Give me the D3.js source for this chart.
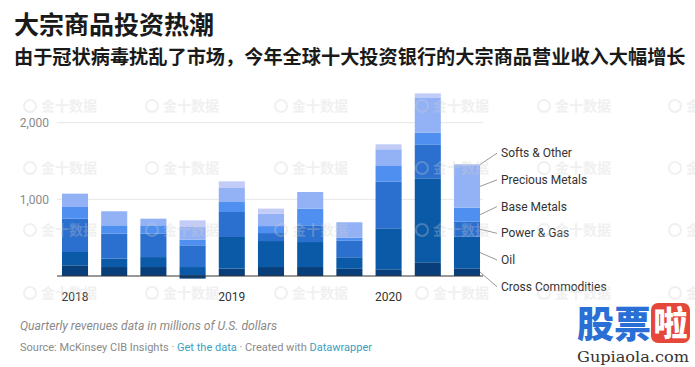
<!DOCTYPE html>
<html>
<head>
<meta charset="utf-8">
<script src="https://cdn.jsdelivr.net/npm/d3@7"></script>
<style>
html,body{margin:0;padding:0;background:#fff;}
svg{display:block;}
</style>
</head>
<body>
<svg id="chart" width="695" height="367"></svg>
<script>
// ---- data ----
const quarters = ["2018 Q1","2018 Q2","2018 Q3","2018 Q4","2019 Q1","2019 Q2","2019 Q3","2019 Q4","2020 Q1","2020 Q2","2020 Q3"];
const seriesNames = ["Cross Commodities","Oil","Power & Gas","Base Metals","Precious Metals","Softs & Other"];
const crossCommodities = [139,117,117,-34,97,117,117,94,87,179,100];
const oil              = [174,109,130,117,412,339,326,150,535,1095,412];
const powerGas         = [435,326,305,283,326,104,218,215,608,443,196];
const baseMetals       = [152,109,109,74,130,91,218,40,205,151,183];
const preciousMetals   = [174,183,87,165,183,163,217,202,218,462,555];
const softsOther       = [0,0,0,87,87,65,0,0,65,52,15];
const yTicks = [1000, 2000];
const yearLabels = [{q:"2018 Q1", t:"2018"},{q:"2019 Q1", t:"2019"},{q:"2020 Q1", t:"2020"}];
const seriesColors = ["#083f7a","#0b5aa8","#2b6fcf","#4e8ff0","#93b1f5","#c3ccf7"];

const titleText = "大宗商品投资热潮";
const subtitleText = "由于冠状病毒扰乱了市场，今年全球十大投资银行的大宗商品营业收入大幅增长";
const noteText = "Quarterly revenues data in millions of U.S. dollars";
const watermarkText = "金十数据";

// ---- build table ----
const seriesArrays = [crossCommodities, oil, powerGas, baseMetals, preciousMetals, softsOther];
const table = quarters.map((q,i)=>{
  const row = {q};
  seriesNames.forEach((s,j)=> row[s] = seriesArrays[j][i]);
  return row;
});

const svg = d3.select("#chart");
const FONT = "Roboto, 'Noto Sans', sans-serif";
const CJK = "'Noto Sans CJK SC', sans-serif";

// ---- title ----
svg.append("text").attr("x",14).attr("y",34)
  .attr("font-family",CJK).attr("font-weight",700).attr("font-size",25)
  .attr("fill","#1a1a1a").text(titleText);
svg.append("text").attr("x",14).attr("y",64)
  .attr("font-family",CJK).attr("font-weight",700).attr("font-size",19.2)
  .attr("fill","#1a1a1a").text(subtitleText);

// ---- scales ----
const x = d3.scaleBand().domain(quarters).range([57,485]).paddingInner(0.335).paddingOuter(0.127);
const y = d3.scaleLinear().domain([0,2000]).range([276,122.67]);

// gridlines
svg.append("g").selectAll("line").data(yTicks).join("line")
  .attr("x1",57).attr("x2",483)
  .attr("y1",d=>y(d)).attr("y2",d=>y(d))
  .attr("stroke","#e6e6e6").attr("stroke-width",1);

// y labels
svg.append("g").selectAll("text").data(yTicks).join("text")
  .attr("x",49).attr("y",d=>y(d)).attr("dy","0.35em")
  .attr("text-anchor","end").attr("font-family",FONT).attr("font-size",12)
  .attr("fill","#8a8a8a").text(d=>d3.format(",")(d));

// stack
const stack = d3.stack().keys(seriesNames).offset(d3.stackOffsetDiverging);
const stacked = stack(table);

svg.append("g").selectAll("g").data(stacked).join("g")
  .attr("fill",(d,i)=>seriesColors[i])
  .selectAll("rect").data(d=>d).join("rect")
  .attr("x",d=>x(d.data.q))
  .attr("width",x.bandwidth())
  .attr("y",d=>y(Math.max(d[0],d[1])))
  .attr("height",d=>Math.abs(y(d[0])-y(d[1])));

// baseline
svg.append("line").attr("x1",57).attr("x2",483).attr("y1",y(0)).attr("y2",y(0))
  .attr("stroke","#333").attr("stroke-width",1);

// x labels
svg.append("g").selectAll("text").data(yearLabels).join("text")
  .attr("x",d=>x(d.q)+x.bandwidth()/2).attr("y",301)
  .attr("text-anchor","middle").attr("font-family",FONT).attr("font-size",12)
  .attr("fill","#333").text(d=>d.t);

// direct labels on last bar
const lastIdx = quarters.length-1;
const mids = stacked.map(s=> y((s[lastIdx][0]+s[lastIdx][1])/2));
const meanMid = d3.mean(mids);
const gap = 26.7;
const n = seriesNames.length;
const labelY = seriesNames.map((s,i)=> meanMid + ((n-1-i) - (n-1)/2)*gap);
const barRight = x(quarters[lastIdx]) + x.bandwidth();
const lg = svg.append("g");
seriesNames.forEach((s,i)=>{
  lg.append("line").attr("x1",barRight).attr("y1",mids[i])
    .attr("x2",497).attr("y2",labelY[i])
    .attr("stroke","#9a9a9a").attr("stroke-width",1);
  lg.append("text").attr("x",501).attr("y",labelY[i]).attr("dy","0.35em")
    .attr("font-family",FONT).attr("font-size",12).attr("fill","#333").text(s);
});

// faint image watermarks (as in the reference)
const wmCols = [23,145,274,415,537,668];
const wmRows = [106,168,230,293];
const wmG = svg.append("g").attr("opacity",0.3);
wmRows.forEach(ry=>wmCols.forEach(cx=>{
  wmG.append("circle").attr("cx",cx+7).attr("cy",ry).attr("r",6)
    .attr("fill","none").attr("stroke","#d0d0d0").attr("stroke-width",2);
  wmG.append("text").attr("x",cx+18).attr("y",ry).attr("dy","0.35em")
    .attr("font-family",CJK).attr("font-size",14).attr("font-weight",700)
    .attr("fill","#d0d0d0").text(watermarkText);
}));

// footer
svg.append("text").attr("x",20).attr("y",330)
  .attr("font-family",FONT).attr("font-style","italic").attr("font-size",12)
  .attr("fill","#8a8a8a").attr("textLength",257).attr("lengthAdjust","spacingAndGlyphs")
  .text(noteText);
const src = svg.append("text").attr("x",20).attr("y",351)
  .attr("font-family",FONT).attr("font-size",11)
  .attr("fill","#8a8a8a").attr("textLength",352).attr("lengthAdjust","spacingAndGlyphs");
src.append("tspan").text("Source: McKinsey CIB Insights · ");
src.append("tspan").attr("fill","#3aa0bf").text("Get the data");
src.append("tspan").text(" · Created with ");
src.append("tspan").attr("fill","#3aa0bf").text("Datawrapper");

// site logo watermark
const logo = svg.append("g");
logo.append("text").attr("x",577).attr("y",338)
  .attr("font-family",CJK).attr("font-weight",900).attr("font-size",37)
  .attr("fill","#2a6fd6").text("股票");
logo.append("rect").attr("x",651).attr("y",303).attr("width",39).attr("height",40).attr("rx",7)
  .attr("fill","#e5473a");
logo.append("text").attr("x",670.5).attr("y",336).attr("text-anchor","middle")
  .attr("font-family",CJK).attr("font-weight",900).attr("font-size",34)
  .attr("fill","#fff").text("啦");
logo.append("text").attr("x",577).attr("y",362)
  .attr("font-family","'DejaVu Serif', 'Liberation Serif', serif").attr("font-size",14)
  .attr("fill","#333").attr("textLength",112).attr("lengthAdjust","spacingAndGlyphs")
  .text("Gupiaola.com");
</script>
</body>
</html>
